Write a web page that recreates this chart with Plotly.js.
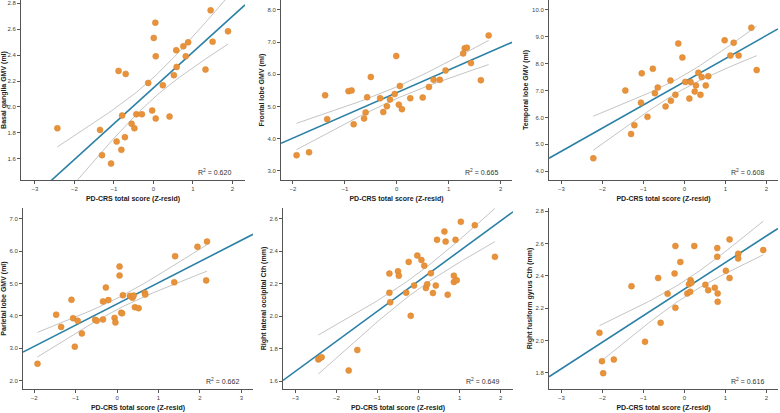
<!DOCTYPE html>
<html>
<head>
<meta charset="utf-8">
<script src="https://cdn.plot.ly/plotly-3.0.1.min.js"></script>
<style>
html, body { margin: 0; padding: 0; background: #fff; }
#chart { width: 780px; height: 413px; }
</style>
</head>
<body>
<div id="chart"></div>
<script>
// values, one x/y pair per panel
var basalX = [-2.43, -1.35, -1.30, -1.07, -0.93, -0.88, -0.70, -0.79, -0.72, -0.81, -0.55, -0.48, -0.43, -0.29, -0.13, -0.03, 0.01, 0.05, 0.06, 0.06, 0.24, 0.41, 0.52, 0.58, 0.59, 0.76, 0.82, 0.88, 1.32, 1.45, 1.50, 1.89];
var basalY = [1.835, 1.822, 1.627, 1.562, 1.732, 2.278, 2.255, 1.933, 1.766, 1.668, 1.869, 1.835, 1.943, 1.943, 2.185, 1.972, 2.533, 2.651, 2.391, 1.910, 2.167, 1.925, 2.245, 2.438, 2.309, 2.468, 2.391, 2.499, 2.288, 2.746, 2.504, 2.584];

var frontalX = [-1.93, -1.69, -1.38, -1.34, -0.93, -0.87, -0.83, -0.63, -0.60, -0.57, -0.50, -0.32, -0.26, -0.19, -0.13, -0.04, -0.01, 0.04, 0.06, 0.10, 0.26, 0.50, 0.62, 0.71, 0.83, 0.94, 1.28, 1.31, 1.35, 1.43, 1.62, 1.77];
var frontalY = [3.49, 3.58, 5.35, 4.61, 5.48, 5.50, 4.45, 4.63, 4.82, 5.29, 5.92, 5.26, 4.83, 5.01, 5.22, 5.39, 6.57, 5.06, 5.64, 4.92, 5.26, 5.28, 5.61, 5.83, 5.83, 6.12, 6.65, 6.81, 6.83, 6.35, 5.82, 7.21];

var temporalX = [-2.22, -1.44, -1.30, -1.22, -1.06, -1.04, -0.90, -0.77, -0.72, -0.65, -0.46, -0.34, -0.33, -0.22, -0.15, -0.05, 0.02, 0.12, 0.15, 0.25, 0.28, 0.34, 0.39, 0.42, 0.52, 0.58, 0.98, 1.20, 1.12, 1.32, 1.63, 1.76];
var temporalY = [4.48, 7.00, 5.38, 5.71, 6.55, 7.64, 6.02, 7.81, 6.90, 7.11, 6.41, 7.37, 6.62, 6.84, 8.75, 8.23, 7.32, 6.70, 7.32, 6.96, 7.19, 7.66, 6.84, 7.50, 7.19, 7.53, 8.87, 8.78, 8.30, 8.30, 9.34, 7.76];

var parietalX = [-1.92, -1.47, -1.35, -1.10, -1.06, -1.02, -0.95, -0.85, -0.53, -0.49, -0.34, -0.34, -0.27, -0.21, -0.06, -0.04, 0.06, 0.06, 0.10, 0.12, 0.14, 0.31, 0.37, 0.40, 0.43, 0.52, 0.67, 0.68, 1.38, 1.40, 1.94, 2.17, 2.15];
var parietalY = [2.52, 4.04, 3.66, 4.50, 3.93, 3.05, 3.85, 3.46, 3.88, 3.85, 3.89, 4.45, 4.88, 4.49, 3.94, 3.80, 5.53, 5.25, 4.10, 4.08, 4.64, 4.62, 4.56, 4.63, 4.27, 4.24, 4.71, 4.66, 5.04, 5.85, 6.14, 6.30, 5.10];

var occipitalX = [-2.44, -2.41, -2.36, -1.49, -1.70, -0.71, -0.71, -0.69, -0.50, -0.48, -0.30, -0.24, -0.19, -0.11, -0.03, 0.07, 0.14, 0.18, 0.21, 0.30, 0.35, 0.42, 0.45, 0.63, 0.66, 0.71, 0.86, 0.86, 0.90, 0.93, 1.03, 1.37, 1.86];
var occipitalY = [1.733, 1.741, 1.747, 1.791, 1.665, 2.262, 2.144, 2.085, 2.276, 2.249, 2.144, 2.334, 2.002, 2.188, 2.373, 2.346, 2.311, 2.173, 2.196, 2.264, 2.142, 2.188, 2.470, 2.521, 2.459, 2.132, 2.249, 2.210, 2.470, 2.221, 2.581, 2.560, 2.365];

var fusiformX = [-2.07, -2.01, -1.98, -1.72, -1.29, -0.96, -0.64, -0.58, -0.41, -0.24, -0.22, -0.22, -0.10, 0.07, 0.11, 0.14, 0.15, 0.17, 0.24, 0.51, 0.58, 0.74, 0.80, 0.80, 0.81, 0.81, 1.01, 1.10, 1.10, 1.31, 1.31, 1.92];
var fusiformY = [2.047, 1.872, 1.798, 1.882, 2.336, 1.992, 2.386, 2.109, 2.289, 2.414, 2.584, 2.202, 2.485, 2.291, 2.348, 2.301, 2.373, 2.357, 2.584, 2.344, 2.311, 2.326, 2.571, 2.518, 2.291, 2.239, 2.431, 2.625, 2.386, 2.536, 2.507, 2.559];

// fitted lines and R squared as printed
var fitSlope = [0.2766, 0.705, 0.863, 0.6565, 0.1855, 0.1643];
var fitIntercept = [2.146, 5.432, 7.327, 4.372, 2.216, 2.318];
var r2Labels = ['0.620', '0.665', '0.608', '0.662', '0.649', '0.616'];

var xTitle = 'PD-CRS total score (Z-resid)';
var yTitles = ['Basal ganglia GMV (ml)', 'Frontal lobe GMV (ml)', 'Temporal lobe GMV (ml)',
  'Parietal lobe GMV (ml)', 'Right lateral occipital Cth (mm)', 'Right fusiform gyrus Cth (mm)'];

var xs = [basalX, frontalX, temporalX, parietalX, occipitalX, fusiformX];
var ys = [basalY, frontalY, temporalY, parietalY, occipitalY, fusiformY];

// layout of the 6 panels (pixels)
var W = 780, H = 413;
var boxes = [
  {x0: 21, x1: 245, y0: 0, y1: 180, xr: [-3.35, 2.32], yr: [1.435, 2.826], yd: 0.2},
  {x0: 281, x1: 512, y0: 0, y1: 180, xr: [-2.23, 2.22], yr: [2.72, 8.31], yd: 1},
  {x0: 549, x1: 778, y0: 0, y1: 180, xr: [-3.30, 2.28], yr: [3.67, 10.37], yd: 1},
  {x0: 23, x1: 253, y0: 208, y1: 389, xr: [-2.27, 3.28], yr: [1.74, 7.34], yd: 1},
  {x0: 283, x1: 513, y0: 208, y1: 389, xr: [-3.30, 2.30], yr: [1.551, 2.666], yd: 0.2},
  {x0: 549, x1: 778, y0: 208, y1: 389, xr: [-3.30, 2.28], yr: [1.70, 2.819], yd: 0.2}
];

var orange = '#e8933b';
var blue = '#2b80a6';
var grey = '#bdbdbd';
var axisCol = '#555';
var fontFam = 'Liberation Sans, Arial, sans-serif';

// confidence band of the mean around the given line
function band(px, py, b, a) {
  var n = px.length;
  var xbar = px.reduce(function (s, v) { return s + v; }, 0) / n;
  var sxx = 0, sse = 0;
  for (var i = 0; i < n; i++) {
    sxx += (px[i] - xbar) * (px[i] - xbar);
    var r = py[i] - (a + b * px[i]);
    sse += r * r;
  }
  var s = Math.sqrt(sse / (n - 2));
  var t = 2.04;
  var lo = Math.min.apply(null, px), hi = Math.max.apply(null, px);
  var bx = [], up = [], dn = [];
  for (var k = 0; k <= 60; k++) {
    var x = lo + (hi - lo) * k / 60;
    var yh = a + b * x;
    var h = t * s * Math.sqrt(1 / n + (x - xbar) * (x - xbar) / sxx);
    bx.push(x); up.push(yh + h); dn.push(yh - h);
  }
  return {x: bx, up: up, dn: dn};
}

var data = [];
var layout = {
  width: W, height: H,
  margin: {l: 0, r: 0, t: 0, b: 0},
  paper_bgcolor: '#fff', plot_bgcolor: '#fff',
  showlegend: false,
  font: {family: fontFam, color: '#333'},
  annotations: []
};

boxes.forEach(function (bx, i) {
  var k = i + 1;
  var xa = 'x' + (k > 1 ? k : ''), ya = 'y' + (k > 1 ? k : '');
  var b = fitSlope[i], a = fitIntercept[i];
  var ci = band(xs[i], ys[i], b, a);

  data.push({x: ci.x, y: ci.up, xaxis: xa, yaxis: ya, mode: 'lines', line: {color: grey, width: 0.9}, hoverinfo: 'skip'});
  data.push({x: ci.x, y: ci.dn, xaxis: xa, yaxis: ya, mode: 'lines', line: {color: grey, width: 0.9}, hoverinfo: 'skip'});
  data.push({x: bx.xr, y: bx.xr.map(function (v) { return a + b * v; }), xaxis: xa, yaxis: ya,
    mode: 'lines', line: {color: blue, width: 1.6}});
  data.push({x: xs[i], y: ys[i], xaxis: xa, yaxis: ya, mode: 'markers',
    marker: {color: orange, size: 6, line: {color: '#d9822b', width: 0.5}}});

  var axBase = {
    showline: true, linecolor: axisCol, linewidth: 1,
    ticks: 'outside', ticklen: 3, tickwidth: 1, tickcolor: axisCol,
    tickfont: {size: 6, color: '#444', family: fontFam},
    showgrid: false, zeroline: false, automargin: false, fixedrange: true
  };
  layout['xaxis' + (k > 1 ? k : '')] = Object.assign({}, axBase, {
    domain: [bx.x0 / W, bx.x1 / W], range: bx.xr, anchor: ya, dtick: 1, tick0: 0,
    title: {text: '<b>' + xTitle + '</b>', font: {size: 7, color: '#222', family: fontFam}, standoff: 4}
  });
  layout['yaxis' + (k > 1 ? k : '')] = Object.assign({}, axBase, {
    domain: [1 - bx.y1 / H, 1 - bx.y0 / H], range: bx.yr, anchor: xa, dtick: bx.yd, tick0: 0,
    tickformat: '.1f',
    title: {text: '<b>' + yTitles[i] + '</b>', font: {size: 7, color: '#222', family: fontFam}, standoff: 2}
  });
  layout.annotations.push({
    xref: xa + ' domain', yref: ya + ' domain', x: 1 - 12 / (bx.x1 - bx.x0), y: 0.01,
    xanchor: 'right', yanchor: 'bottom', showarrow: false,
    text: 'R<sup>2</sup> = ' + r2Labels[i], font: {size: 7, color: '#333', family: fontFam}
  });
});

Plotly.newPlot('chart', data, layout, {displayModeBar: false, staticPlot: true});
</script>
</body>
</html>
